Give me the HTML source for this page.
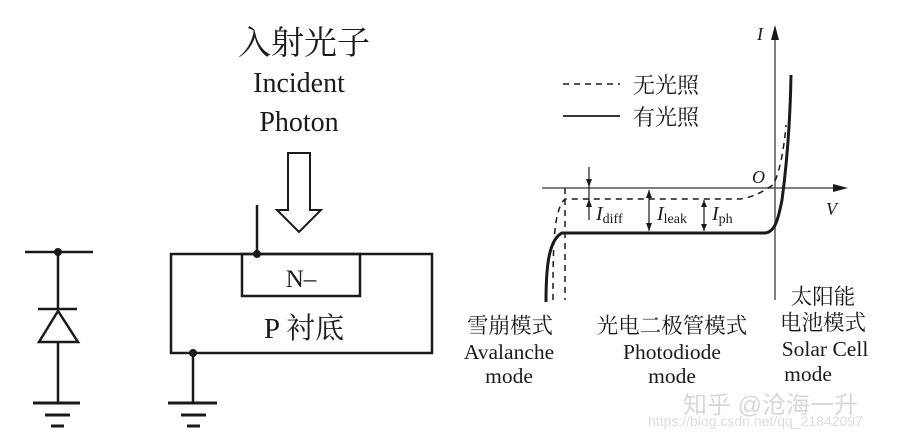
<!DOCTYPE html>
<html><head><meta charset="utf-8"><style>
html,body{margin:0;padding:0;background:#fff;}
svg{display:block}
text{fill:#1a1a1a}
.s{font-family:"Liberation Serif","Noto Serif CJK SC",serif}
</style></head><body>
<svg width="900" height="439" viewBox="0 0 900 439" xmlns="http://www.w3.org/2000/svg">
<g stroke="#1a1a1a" stroke-width="2.5" fill="none">
<line x1="25" y1="252" x2="93" y2="252"/>
<line x1="58" y1="252" x2="58" y2="403"/>
<line x1="38" y1="309" x2="77" y2="309"/>
<polygon points="58,311 39,342 78,342" fill="#fff"/>
<line x1="33" y1="403" x2="80" y2="403" stroke-width="3"/>
<line x1="45" y1="415" x2="70" y2="415" stroke-width="3"/>
<line x1="51" y1="426" x2="64" y2="426" stroke-width="3"/>
<rect x="171" y="254" width="261" height="99"/>
<rect x="242" y="254" width="118" height="42"/>
<line x1="257" y1="205" x2="257" y2="254"/>
<line x1="193" y1="353" x2="193" y2="403"/>
<line x1="168" y1="403" x2="217" y2="403" stroke-width="3"/>
<line x1="181" y1="415" x2="206" y2="415" stroke-width="3"/>
<line x1="187" y1="426" x2="200" y2="426" stroke-width="3"/>
<polygon points="288,153 310,153 310,210 321,210 299,232 277,210 288,210" stroke-width="2"/>
<line x1="542" y1="188" x2="840" y2="188" stroke="#555" stroke-width="1.5"/>
<line x1="775" y1="300" x2="775" y2="32" stroke="#555" stroke-width="1.5"/>
<path d="M565,188 V300" stroke-dasharray="6,5" stroke-width="1.5"/>
<path d="M553,300 C553,250 553,210 565,199 H740 C755,197 765,190 773,185 C779,175 784,150 786,125" stroke-dasharray="6,5" stroke-width="1.5"/>
<path d="M546,302 C546,270 548,240 562,233 H765 C775,232 778,220 782,200 C786,170 790,130 791,75" stroke-width="3"/>
<line x1="563" y1="84" x2="620" y2="84" stroke-dasharray="6,5" stroke-width="1.5"/>
<line x1="563" y1="116" x2="620" y2="116" stroke-width="1.8"/>
<line x1="589" y1="167" x2="589" y2="220" stroke-width="1.2"/>
<line x1="649" y1="190" x2="649" y2="231" stroke-width="1.2"/>
<line x1="704" y1="200" x2="704" y2="231" stroke-width="1.2"/>
</g>
<g fill="#1a1a1a">
<circle cx="58" cy="252" r="4"/>
<circle cx="257" cy="254" r="4"/>
<circle cx="193" cy="353" r="4"/>
<polygon points="775,25 771,40 779,40"/>
<polygon points="848,188 833,184 833,192"/>
<polygon points="589,187 586,179 592,179"/>
<polygon points="589,199 586,207 592,207"/>
<polygon points="649,190 646,198 652,198"/>
<polygon points="649,231 646,223 652,223"/>
<polygon points="704,200 701,207 707,207"/>
<polygon points="704,231 701,224 707,224"/>
</g>
<g class="s">
<text x="304" y="54" font-size="33" text-anchor="middle">入射光子</text>
<text x="299" y="92" font-size="28" text-anchor="middle">Incident</text>
<text x="299" y="131" font-size="28" text-anchor="middle">Photon</text>
<text x="301" y="287" font-size="25" text-anchor="middle">N–</text>
<text x="304" y="338" font-size="29" text-anchor="middle">P 衬底</text>
<text x="633" y="93" font-size="22">无光照</text>
<text x="633" y="125" font-size="22">有光照</text>
<text x="757" y="40" font-size="18" font-style="italic">I</text>
<text x="752" y="183" font-size="18" font-style="italic">O</text>
<text x="826" y="215" font-size="18" font-style="italic">V</text>
<text x="596" y="220" font-size="20"><tspan font-style="italic">I</tspan><tspan font-size="14" dy="3">diff</tspan></text>
<text x="657" y="220" font-size="20"><tspan font-style="italic">I</tspan><tspan font-size="14" dy="3">leak</tspan></text>
<text x="712" y="220" font-size="20"><tspan font-style="italic">I</tspan><tspan font-size="14" dy="3">ph</tspan></text>
<text x="510" y="333" font-size="21.5" text-anchor="middle">雪崩模式</text>
<text x="509" y="359" font-size="21.5" text-anchor="middle">Avalanche</text>
<text x="509" y="383" font-size="21.5" text-anchor="middle">mode</text>
<text x="672" y="333" font-size="21.5" text-anchor="middle">光电二极管模式</text>
<text x="672" y="359" font-size="21.5" text-anchor="middle">Photodiode</text>
<text x="672" y="383" font-size="21.5" text-anchor="middle">mode</text>
<text x="823" y="304" font-size="21.5" text-anchor="middle">太阳能</text>
<text x="823" y="330" font-size="21.5" text-anchor="middle">电池模式</text>
<text x="825" y="356" font-size="21.5" text-anchor="middle">Solar Cell</text>
<text x="808" y="381" font-size="21.5" text-anchor="middle">mode</text>
</g>
<text x="683" y="413" font-size="24" font-family="'Liberation Sans','Noto Sans CJK SC',sans-serif" style="fill:#d8d8d8">知乎 @沧海一升</text>
<text x="648" y="426" font-size="14" font-family="'Liberation Sans',sans-serif" style="fill:#dcdcdc">https://blog.csdn.net/qq_21842097</text>
</svg>
</body></html>
